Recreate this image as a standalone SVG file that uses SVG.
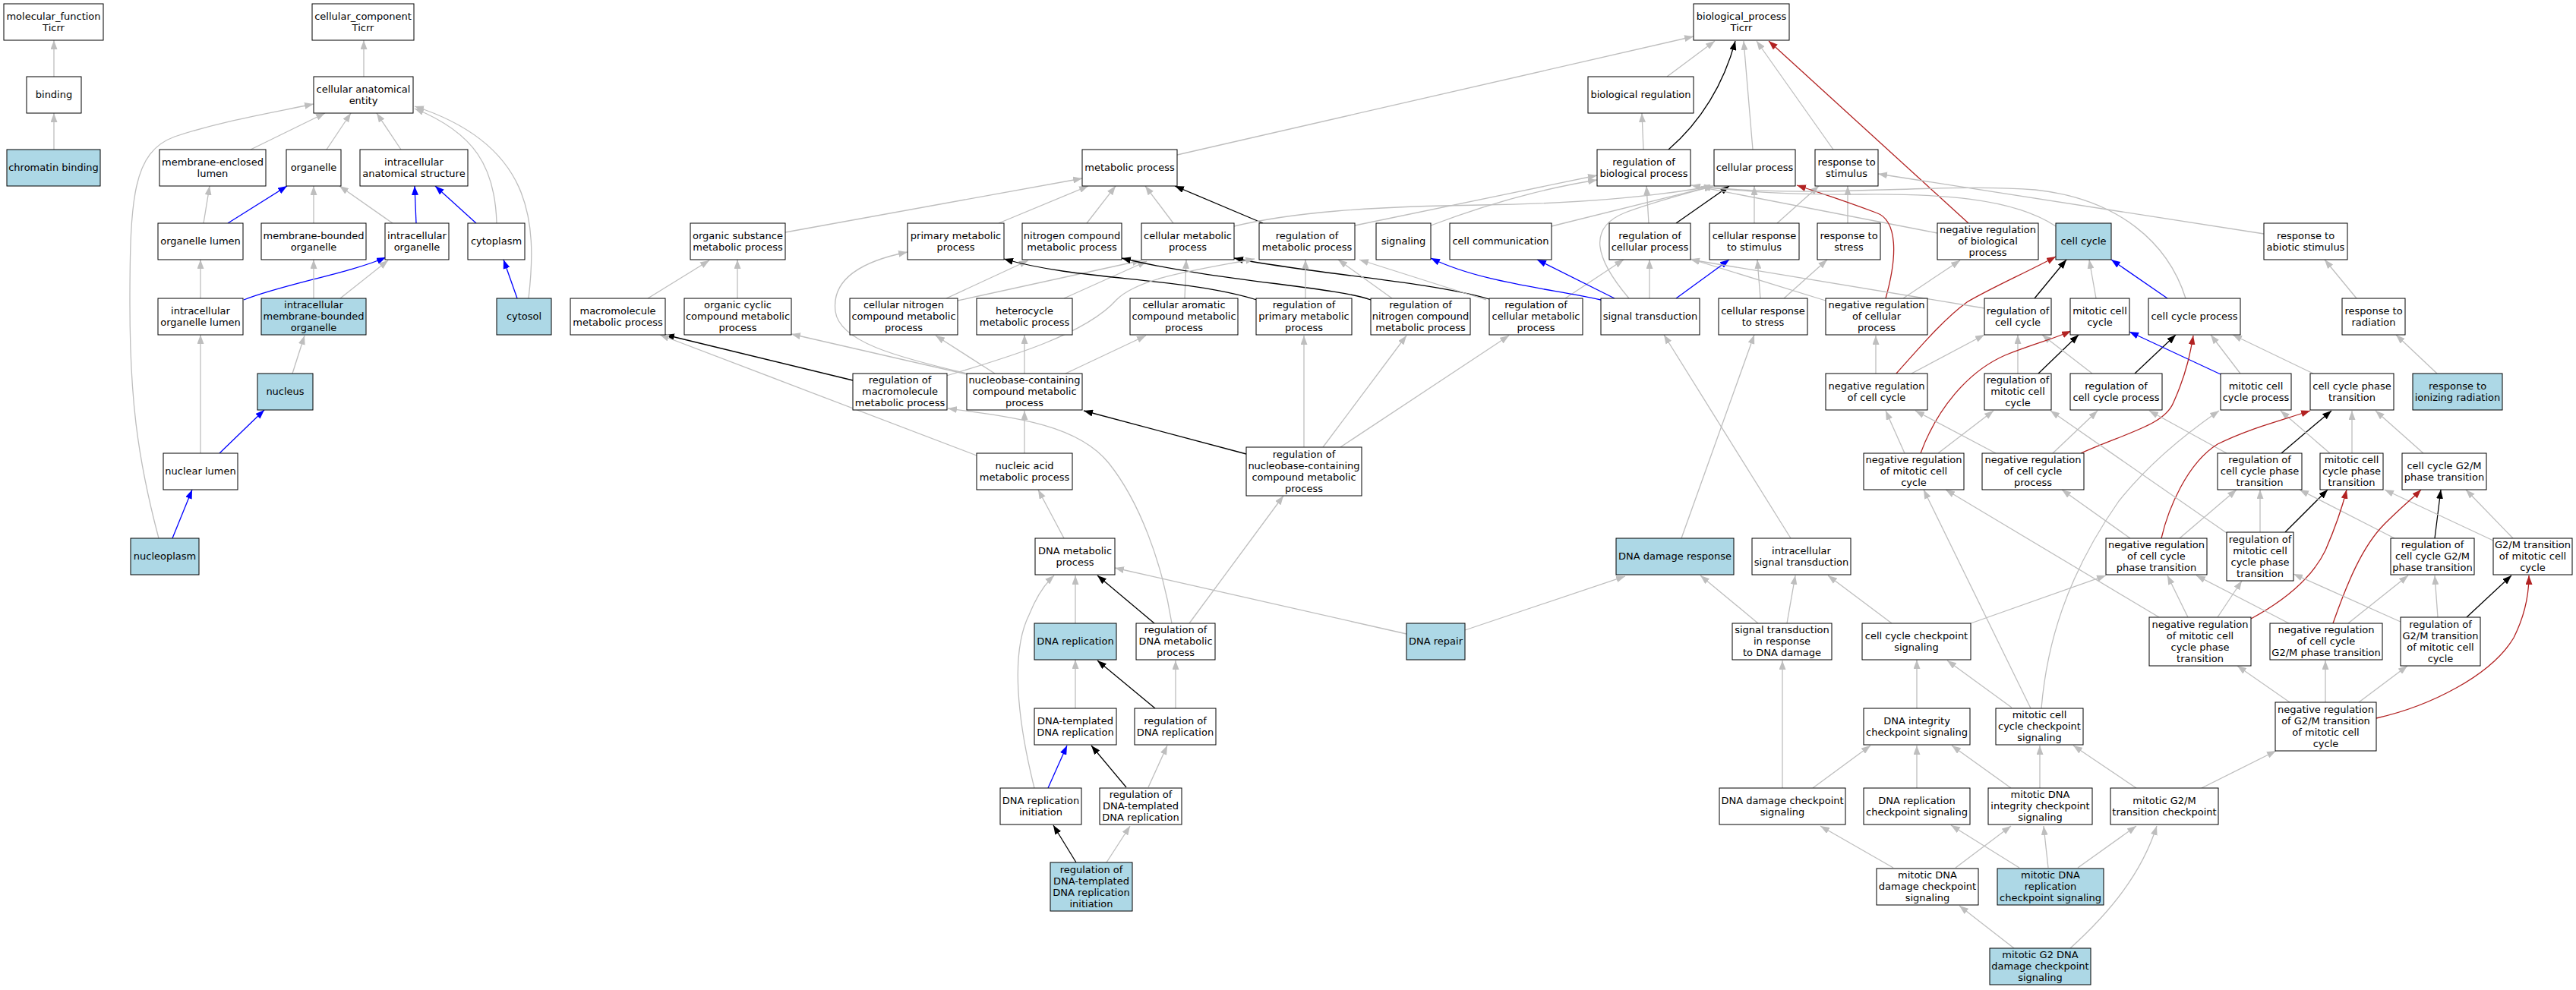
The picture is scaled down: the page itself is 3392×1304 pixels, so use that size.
<svg xmlns="http://www.w3.org/2000/svg" width="3392" height="1304" viewBox="0 0 3392 1304">
<defs>
<style>
.n rect{fill:#fff;stroke:#000;stroke-width:1}
.f rect{fill:#ADD8E6}
text{font-family:"DejaVu Sans","Liberation Sans",sans-serif;font-size:13px;text-anchor:middle;fill:#000}
#edges path{fill:none;stroke-width:1.3}
.g{stroke:#BEBEBE;marker-end:url(#mg)}
.k{stroke:#000;marker-end:url(#mk)}
.b{stroke:#0000FF;marker-end:url(#mb)}
.r{stroke:#B22222;marker-end:url(#mr)}
</style>
<marker id="mg" markerUnits="userSpaceOnUse" markerWidth="13" markerHeight="9" refX="12" refY="4.5" orient="auto"><path d="M0,0 L12,4.5 L0,9 z" fill="#BEBEBE"/></marker>
<marker id="mk" markerUnits="userSpaceOnUse" markerWidth="13" markerHeight="9" refX="12" refY="4.5" orient="auto"><path d="M0,0 L12,4.5 L0,9 z" fill="#000"/></marker>
<marker id="mb" markerUnits="userSpaceOnUse" markerWidth="13" markerHeight="9" refX="12" refY="4.5" orient="auto"><path d="M0,0 L12,4.5 L0,9 z" fill="#0000FF"/></marker>
<marker id="mr" markerUnits="userSpaceOnUse" markerWidth="13" markerHeight="9" refX="12" refY="4.5" orient="auto"><path d="M0,0 L12,4.5 L0,9 z" fill="#B22222"/></marker>
</defs>
<rect x="0" y="0" width="3392" height="1304" fill="#fff"/>
<g id="edges">
<path class="g" d="M71,101 L71,53"/>
<path class="g" d="M71,197 L71,149"/>
<path class="g" d="M479,101 L479,53"/>
<path class="g" d="M330,197 L428,149"/>
<path class="g" d="M430,197 L462,149"/>
<path class="g" d="M528,197 L496,149"/>
<path class="g" d="M268,294 L276,245"/>
<path class="b" d="M300,294 L378,245"/>
<path class="g" d="M413,294 L413,245"/>
<path class="g" d="M517,294 L447,245"/>
<path class="b" d="M548,294 L546,245"/>
<path class="b" d="M627,294 L573,245"/>
<path class="g" d="M654,294 C652,220 625,175 546,143"/>
<path class="g" d="M696,393 C708,290 700,190 546,140"/>
<path class="b" d="M681,393 L663,342"/>
<path class="g" d="M264,393 L264,342"/>
<path class="b" d="M321,395 C370,375 460,360 508,339"/>
<path class="g" d="M413,393 L413,342"/>
<path class="g" d="M448,393 L511,343"/>
<path class="g" d="M385,492 L401,442"/>
<path class="g" d="M264,597 L264,441"/>
<path class="b" d="M289,597 L348,540"/>
<path class="b" d="M227,709 L253,645"/>
<path class="g" d="M209,709 C180,600 171,520 171,400 C171,260 175,200 230,180 C290,160 350,150 413,137"/>
<path class="g" d="M1550,204 L2230,48"/>
<path class="g" d="M1034,306 L1425,235"/>
<path class="g" d="M1315,294 L1433,245"/>
<path class="g" d="M1431,294 L1469,245"/>
<path class="g" d="M1545,294 L1508,245"/>
<path class="k" d="M1663,294 L1547,245"/>
<path class="g" d="M1784,297 L2103,231"/>
<path class="g" d="M1884,297 C1950,272 2020,250 2103,237"/>
<path class="g" d="M1625,298 C1700,280 1800,272 1950,270 C2100,268 2200,255 2256,245"/>
<path class="g" d="M2043,298 L2256,245"/>
<path class="g" d="M2145,393 C2100,340 2090,300 2140,280 C2180,265 2220,255 2256,245"/>
<path class="k" d="M2207,294 L2277,245"/>
<path class="g" d="M2171,294 L2168,245"/>
<path class="g" d="M2310,294 L2310,245"/>
<path class="g" d="M2340,294 L2395,245"/>
<path class="g" d="M2433,294 L2433,245"/>
<path class="r" d="M2592,294 L2329,54"/>
<path class="g" d="M2551,307 L2227,244"/>
<path class="g" d="M2506,393 L2581,343"/>
<path class="g" d="M2404,396 L2226,341"/>
<path class="r" d="M2483,393 C2498,340 2500,290 2470,280 C2430,265 2400,255 2366,244"/>
<path class="g" d="M2981,308 L2473,229"/>
<path class="g" d="M2707,298 C2650,260 2550,255 2450,256 C2350,257 2300,252 2240,246"/>
<path class="g" d="M2878,393 C2855,320 2790,262 2680,250 C2560,240 2400,262 2240,246"/>
<path class="g" d="M2164,197 L2162,149"/>
<path class="k" d="M2197,197 C2240,160 2270,110 2285,54"/>
<path class="g" d="M2195,101 L2258,54"/>
<path class="g" d="M2308,197 L2296,54"/>
<path class="g" d="M2414,197 L2313,54"/>
<path class="g" d="M853,393 L934,343"/>
<path class="g" d="M971,393 L971,342"/>
<path class="g" d="M1246,393 L1354,343"/>
<path class="g" d="M1261,396 L1503,343"/>
<path class="g" d="M1401,393 L1510,344"/>
<path class="g" d="M1560,393 L1562,342"/>
<path class="k" d="M1655,395 C1560,365 1420,370 1322,341"/>
<path class="k" d="M1805,395 C1760,378 1600,370 1477,340"/>
<path class="k" d="M1961,394 C1880,370 1720,360 1625,340"/>
<path class="g" d="M1719,393 L1719,342"/>
<path class="g" d="M1833,393 L1762,342"/>
<path class="g" d="M1957,395 L1790,342"/>
<path class="g" d="M2061,393 L2138,342"/>
<path class="k" d="M1123,501 L876,441"/>
<path class="g" d="M1246,495 C1330,470 1430,440 1470,395 C1500,365 1580,355 1652,341"/>
<path class="g" d="M1273,493 L1042,440"/>
<path class="g" d="M1310,492 L1232,442"/>
<path class="g" d="M1349,492 L1349,441"/>
<path class="g" d="M1403,492 L1509,442"/>
<path class="g" d="M1273,492 C1180,470 1105,450 1100,410 C1095,370 1130,345 1195,332"/>
<path class="g" d="M1349,597 L1349,541"/>
<path class="g" d="M1286,600 L869,441"/>
<path class="k" d="M1641,598 L1427,541"/>
<path class="g" d="M1717,589 L1717,442"/>
<path class="g" d="M1742,589 L1852,442"/>
<path class="g" d="M1765,589 L1987,442"/>
<path class="g" d="M1401,709 L1367,645"/>
<path class="g" d="M1543,821 C1530,740 1500,660 1460,610 C1420,560 1340,550 1248,538"/>
<path class="g" d="M1566,821 L1690,653"/>
<path class="k" d="M1520,821 L1445,758"/>
<path class="g" d="M1852,835 L1468,748"/>
<path class="g" d="M1929,830 L2140,759"/>
<path class="g" d="M1416,821 L1416,758"/>
<path class="g" d="M1362,1038 C1340,950 1330,860 1355,810 C1365,785 1375,770 1388,758"/>
<path class="g" d="M1416,933 L1416,869"/>
<path class="k" d="M1521,933 L1445,870"/>
<path class="g" d="M1548,933 L1548,870"/>
<path class="b" d="M1380,1038 L1405,982"/>
<path class="k" d="M1483,1037 L1437,982"/>
<path class="g" d="M1512,1037 L1537,982"/>
<path class="k" d="M1417,1136 L1387,1087"/>
<path class="g" d="M1457,1136 L1488,1088"/>
<path class="b" d="M2108,395 C2040,380 1950,372 1884,340"/>
<path class="b" d="M2126,393 L2024,342"/>
<path class="g" d="M2172,393 L2172,342"/>
<path class="b" d="M2207,393 L2277,342"/>
<path class="g" d="M2318,393 L2314,342"/>
<path class="g" d="M2349,393 L2406,342"/>
<path class="g" d="M2358,709 L2191,441"/>
<path class="g" d="M2214,709 L2310,441"/>
<path class="g" d="M2470,492 L2470,442"/>
<path class="g" d="M2517,492 L2613,441"/>
<path class="r" d="M2497,492 C2530,455 2560,420 2590,398 C2620,380 2670,358 2707,338"/>
<path class="g" d="M2613,406 L2226,342"/>
<path class="k" d="M2679,393 L2721,342"/>
<path class="g" d="M2760,393 L2751,342"/>
<path class="b" d="M2854,393 L2780,342"/>
<path class="g" d="M3103,393 L3061,342"/>
<path class="g" d="M3209,492 L3155,441"/>
<path class="g" d="M2657,492 L2657,441"/>
<path class="k" d="M2684,492 L2737,441"/>
<path class="g" d="M2755,492 L2689,441"/>
<path class="k" d="M2811,492 L2865,441"/>
<path class="b" d="M2924,493 L2804,437"/>
<path class="g" d="M2950,492 L2911,441"/>
<path class="g" d="M3046,492 L2940,441"/>
<path class="g" d="M2508,597 L2483,541"/>
<path class="r" d="M2529,597 C2550,540 2590,490 2640,468 C2680,452 2700,448 2727,436"/>
<path class="g" d="M2552,597 L2625,541"/>
<path class="g" d="M2628,597 L2522,541"/>
<path class="g" d="M2703,597 L2762,541"/>
<path class="r" d="M2740,597 C2800,570 2850,560 2862,530 C2880,490 2885,460 2888,442"/>
<path class="g" d="M2932,597 L2830,541"/>
<path class="k" d="M3004,597 L3070,541"/>
<path class="g" d="M3068,597 L3003,541"/>
<path class="g" d="M3097,597 L3097,541"/>
<path class="g" d="M3191,597 L3128,541"/>
<path class="g" d="M2805,709 L2715,645"/>
<path class="r" d="M2846,709 C2855,670 2880,610 2920,585 C2960,565 3000,555 3042,541"/>
<path class="g" d="M2870,709 L2945,645"/>
<path class="g" d="M2976,701 L2976,645"/>
<path class="k" d="M3009,701 L3065,645"/>
<path class="g" d="M2932,702 L2700,541"/>
<path class="k" d="M3206,709 L3214,645"/>
<path class="g" d="M3153,709 L3028,645"/>
<path class="g" d="M3309,709 L3247,645"/>
<path class="g" d="M3283,712 L3140,645"/>
<path class="g" d="M2881,813 L2854,758"/>
<path class="g" d="M2920,813 L2952,765"/>
<path class="r" d="M2964,815 C3010,790 3045,760 3062,725 C3075,695 3085,665 3090,645"/>
<path class="g" d="M2843,813 L2562,645"/>
<path class="g" d="M3014,821 L2892,758"/>
<path class="g" d="M3092,821 L3171,758"/>
<path class="r" d="M3072,821 C3090,770 3110,720 3140,690 C3160,670 3178,655 3188,645"/>
<path class="g" d="M3210,813 L3206,758"/>
<path class="k" d="M3248,813 L3307,758"/>
<path class="g" d="M3161,819 L3020,756"/>
<path class="g" d="M2595,821 L2773,758"/>
<path class="g" d="M2491,821 L2407,758"/>
<path class="g" d="M2315,821 L2239,758"/>
<path class="g" d="M2353,821 L2364,758"/>
<path class="g" d="M2524,933 L2524,869"/>
<path class="g" d="M2649,932 L2564,870"/>
<path class="g" d="M2688,933 C2695,850 2720,760 2790,660 C2830,610 2880,570 2922,541"/>
<path class="g" d="M2674,933 L2533,645"/>
<path class="g" d="M3015,925 L2946,877"/>
<path class="g" d="M3062,925 L3062,870"/>
<path class="g" d="M3106,925 L3170,877"/>
<path class="r" d="M3129,946 C3200,930 3280,890 3310,840 C3325,810 3330,780 3330,758"/>
<path class="g" d="M2387,1038 L2463,982"/>
<path class="g" d="M2347,1038 L2347,870"/>
<path class="g" d="M2524,1038 L2524,982"/>
<path class="g" d="M2648,1038 L2570,982"/>
<path class="g" d="M2686,1038 L2686,982"/>
<path class="g" d="M2813,1038 L2730,982"/>
<path class="g" d="M2899,1038 L2997,989"/>
<path class="g" d="M2493,1143 L2397,1088"/>
<path class="g" d="M2575,1143 L2648,1088"/>
<path class="g" d="M2659,1143 L2569,1087"/>
<path class="g" d="M2697,1143 L2691,1088"/>
<path class="g" d="M2736,1143 L2813,1088"/>
<path class="g" d="M2652,1249 L2580,1193"/>
<path class="g" d="M2726,1249 C2780,1200 2820,1150 2840,1088"/>
</g>
<g id="mf" class="n"><rect x="5" y="5" width="131" height="48"/><text x="70.5" y="25.5">molecular_function</text><text x="70.5" y="40.5">Ticrr</text></g>
<g id="cc" class="n"><rect x="411" y="5" width="134" height="48"/><text x="478" y="25.5">cellular_component</text><text x="478" y="40.5">Ticrr</text></g>
<g id="bp" class="n"><rect x="2230" y="5" width="126" height="48"/><text x="2293" y="25.5">biological_process</text><text x="2293" y="40.5">Ticrr</text></g>
<g id="binding" class="n"><rect x="35" y="101" width="72" height="48"/><text x="71" y="129">binding</text></g>
<g id="cae" class="n"><rect x="413" y="101" width="131" height="48"/><text x="478.5" y="121.5">cellular anatomical</text><text x="478.5" y="136.5">entity</text></g>
<g id="bioreg" class="n"><rect x="2091" y="101" width="139" height="48"/><text x="2160.5" y="129">biological regulation</text></g>
<g id="chromatin" class="n f"><rect x="9" y="197" width="123" height="48"/><text x="70.5" y="225">chromatin binding</text></g>
<g id="mel" class="n"><rect x="210" y="197" width="140" height="48"/><text x="280" y="217.5">membrane-enclosed</text><text x="280" y="232.5">lumen</text></g>
<g id="organelle" class="n"><rect x="377" y="197" width="72" height="48"/><text x="413" y="225">organelle</text></g>
<g id="ias" class="n"><rect x="474" y="197" width="142" height="48"/><text x="545" y="217.5">intracellular</text><text x="545" y="232.5">anatomical structure</text></g>
<g id="metab" class="n"><rect x="1425" y="197" width="125" height="48"/><text x="1487.5" y="225">metabolic process</text></g>
<g id="rbp" class="n"><rect x="2103" y="197" width="123" height="48"/><text x="2164.5" y="217.5">regulation of</text><text x="2164.5" y="232.5">biological process</text></g>
<g id="cellproc" class="n"><rect x="2257" y="197" width="107" height="48"/><text x="2310.5" y="225">cellular process</text></g>
<g id="rstim" class="n"><rect x="2390" y="197" width="83" height="48"/><text x="2431.5" y="217.5">response to</text><text x="2431.5" y="232.5">stimulus</text></g>
<g id="ol" class="n"><rect x="208" y="294" width="112" height="48"/><text x="264" y="322">organelle lumen</text></g>
<g id="mbo" class="n"><rect x="344" y="294" width="138" height="48"/><text x="413" y="314.5">membrane-bounded</text><text x="413" y="329.5">organelle</text></g>
<g id="io" class="n"><rect x="507" y="294" width="84" height="48"/><text x="549" y="314.5">intracellular</text><text x="549" y="329.5">organelle</text></g>
<g id="cytoplasm" class="n"><rect x="616" y="294" width="75" height="48"/><text x="653.5" y="322">cytoplasm</text></g>
<g id="osmp" class="n"><rect x="909" y="294" width="125" height="48"/><text x="971.5" y="314.5">organic substance</text><text x="971.5" y="329.5">metabolic process</text></g>
<g id="pmp" class="n"><rect x="1195" y="294" width="127" height="48"/><text x="1258.5" y="314.5">primary metabolic</text><text x="1258.5" y="329.5">process</text></g>
<g id="ncmp" class="n"><rect x="1346" y="294" width="131" height="48"/><text x="1411.5" y="314.5">nitrogen compound</text><text x="1411.5" y="329.5">metabolic process</text></g>
<g id="cmp" class="n"><rect x="1503" y="294" width="122" height="48"/><text x="1564" y="314.5">cellular metabolic</text><text x="1564" y="329.5">process</text></g>
<g id="rmp" class="n"><rect x="1658" y="294" width="126" height="48"/><text x="1721" y="314.5">regulation of</text><text x="1721" y="329.5">metabolic process</text></g>
<g id="signaling" class="n"><rect x="1812" y="294" width="72" height="48"/><text x="1848" y="322">signaling</text></g>
<g id="cellcomm" class="n"><rect x="1909" y="294" width="134" height="48"/><text x="1976" y="322">cell communication</text></g>
<g id="rcp" class="n"><rect x="2119" y="294" width="107" height="48"/><text x="2172.5" y="314.5">regulation of</text><text x="2172.5" y="329.5">cellular process</text></g>
<g id="crstim" class="n"><rect x="2251" y="294" width="118" height="48"/><text x="2310" y="314.5">cellular response</text><text x="2310" y="329.5">to stimulus</text></g>
<g id="rstress" class="n"><rect x="2393" y="294" width="83" height="48"/><text x="2434.5" y="314.5">response to</text><text x="2434.5" y="329.5">stress</text></g>
<g id="nrbp" class="n"><rect x="2551" y="294" width="133" height="48"/><text x="2617.5" y="307">negative regulation</text><text x="2617.5" y="322">of biological</text><text x="2617.5" y="337">process</text></g>
<g id="cellcycle" class="n f"><rect x="2707" y="294" width="73" height="48"/><text x="2743.5" y="322">cell cycle</text></g>
<g id="rabiotic" class="n"><rect x="2981" y="294" width="110" height="48"/><text x="3036" y="314.5">response to</text><text x="3036" y="329.5">abiotic stimulus</text></g>
<g id="iol" class="n"><rect x="208" y="393" width="112" height="48"/><text x="264" y="413.5">intracellular</text><text x="264" y="428.5">organelle lumen</text></g>
<g id="imbo" class="n f"><rect x="344" y="393" width="138" height="48"/><text x="413" y="406">intracellular</text><text x="413" y="421">membrane-bounded</text><text x="413" y="436">organelle</text></g>
<g id="cytosol" class="n f"><rect x="654" y="393" width="72" height="48"/><text x="690" y="421">cytosol</text></g>
<g id="mmp" class="n"><rect x="751" y="393" width="125" height="48"/><text x="813.5" y="413.5">macromolecule</text><text x="813.5" y="428.5">metabolic process</text></g>
<g id="occmp" class="n"><rect x="901" y="393" width="141" height="48"/><text x="971.5" y="406">organic cyclic</text><text x="971.5" y="421">compound metabolic</text><text x="971.5" y="436">process</text></g>
<g id="cncmp" class="n"><rect x="1119" y="393" width="142" height="48"/><text x="1190" y="406">cellular nitrogen</text><text x="1190" y="421">compound metabolic</text><text x="1190" y="436">process</text></g>
<g id="hmp" class="n"><rect x="1286" y="393" width="126" height="48"/><text x="1349" y="413.5">heterocycle</text><text x="1349" y="428.5">metabolic process</text></g>
<g id="cacmp" class="n"><rect x="1488" y="393" width="142" height="48"/><text x="1559" y="406">cellular aromatic</text><text x="1559" y="421">compound metabolic</text><text x="1559" y="436">process</text></g>
<g id="rpmp" class="n"><rect x="1654" y="393" width="126" height="48"/><text x="1717" y="406">regulation of</text><text x="1717" y="421">primary metabolic</text><text x="1717" y="436">process</text></g>
<g id="rncmp" class="n"><rect x="1805" y="393" width="131" height="48"/><text x="1870.5" y="406">regulation of</text><text x="1870.5" y="421">nitrogen compound</text><text x="1870.5" y="436">metabolic process</text></g>
<g id="rcmp" class="n"><rect x="1961" y="393" width="123" height="48"/><text x="2022.5" y="406">regulation of</text><text x="2022.5" y="421">cellular metabolic</text><text x="2022.5" y="436">process</text></g>
<g id="st" class="n"><rect x="2108" y="393" width="130" height="48"/><text x="2173" y="421">signal transduction</text></g>
<g id="crstress" class="n"><rect x="2263" y="393" width="117" height="48"/><text x="2321.5" y="413.5">cellular response</text><text x="2321.5" y="428.5">to stress</text></g>
<g id="nrcp" class="n"><rect x="2404" y="393" width="134" height="48"/><text x="2471" y="406">negative regulation</text><text x="2471" y="421">of cellular</text><text x="2471" y="436">process</text></g>
<g id="rcc" class="n"><rect x="2613" y="393" width="88" height="48"/><text x="2657" y="413.5">regulation of</text><text x="2657" y="428.5">cell cycle</text></g>
<g id="mcc" class="n"><rect x="2726" y="393" width="78" height="48"/><text x="2765" y="413.5">mitotic cell</text><text x="2765" y="428.5">cycle</text></g>
<g id="ccp" class="n"><rect x="2829" y="393" width="121" height="48"/><text x="2889.5" y="421">cell cycle process</text></g>
<g id="rrad" class="n"><rect x="3084" y="393" width="83" height="48"/><text x="3125.5" y="413.5">response to</text><text x="3125.5" y="428.5">radiation</text></g>
<g id="nucleus" class="n f"><rect x="339" y="492" width="73" height="48"/><text x="375.5" y="520">nucleus</text></g>
<g id="rmmp" class="n"><rect x="1123" y="492" width="124" height="48"/><text x="1185" y="505">regulation of</text><text x="1185" y="520">macromolecule</text><text x="1185" y="535">metabolic process</text></g>
<g id="nbcmp" class="n"><rect x="1273" y="492" width="152" height="48"/><text x="1349" y="505">nucleobase-containing</text><text x="1349" y="520">compound metabolic</text><text x="1349" y="535">process</text></g>
<g id="nrcc" class="n"><rect x="2404" y="492" width="134" height="48"/><text x="2471" y="512.5">negative regulation</text><text x="2471" y="527.5">of cell cycle</text></g>
<g id="rmcc" class="n"><rect x="2613" y="492" width="88" height="48"/><text x="2657" y="505">regulation of</text><text x="2657" y="520">mitotic cell</text><text x="2657" y="535">cycle</text></g>
<g id="rccp" class="n"><rect x="2726" y="492" width="121" height="48"/><text x="2786.5" y="512.5">regulation of</text><text x="2786.5" y="527.5">cell cycle process</text></g>
<g id="mccp" class="n"><rect x="2924" y="492" width="93" height="48"/><text x="2970.5" y="512.5">mitotic cell</text><text x="2970.5" y="527.5">cycle process</text></g>
<g id="ccpt" class="n"><rect x="3042" y="492" width="110" height="48"/><text x="3097" y="512.5">cell cycle phase</text><text x="3097" y="527.5">transition</text></g>
<g id="rir" class="n f"><rect x="3177" y="492" width="118" height="48"/><text x="3236" y="512.5">response to</text><text x="3236" y="527.5">ionizing radiation</text></g>
<g id="nl" class="n"><rect x="215" y="597" width="98" height="48"/><text x="264" y="625">nuclear lumen</text></g>
<g id="namp" class="n"><rect x="1286" y="597" width="126" height="48"/><text x="1349" y="617.5">nucleic acid</text><text x="1349" y="632.5">metabolic process</text></g>
<g id="rnbcmp" class="n"><rect x="1641" y="589" width="152" height="64"/><text x="1717" y="602.5">regulation of</text><text x="1717" y="617.5">nucleobase-containing</text><text x="1717" y="632.5">compound metabolic</text><text x="1717" y="647.5">process</text></g>
<g id="nrmcc" class="n"><rect x="2454" y="597" width="132" height="48"/><text x="2520" y="610">negative regulation</text><text x="2520" y="625">of mitotic cell</text><text x="2520" y="640">cycle</text></g>
<g id="nrccp" class="n"><rect x="2610" y="597" width="134" height="48"/><text x="2677" y="610">negative regulation</text><text x="2677" y="625">of cell cycle</text><text x="2677" y="640">process</text></g>
<g id="rccpt" class="n"><rect x="2920" y="597" width="111" height="48"/><text x="2975.5" y="610">regulation of</text><text x="2975.5" y="625">cell cycle phase</text><text x="2975.5" y="640">transition</text></g>
<g id="mccpt" class="n"><rect x="3055" y="597" width="83" height="48"/><text x="3096.5" y="610">mitotic cell</text><text x="3096.5" y="625">cycle phase</text><text x="3096.5" y="640">transition</text></g>
<g id="ccg2m" class="n"><rect x="3163" y="597" width="111" height="48"/><text x="3218.5" y="617.5">cell cycle G2/M</text><text x="3218.5" y="632.5">phase transition</text></g>
<g id="nucleoplasm" class="n f"><rect x="172" y="709" width="90" height="48"/><text x="217" y="737">nucleoplasm</text></g>
<g id="dnamp" class="n"><rect x="1363" y="709" width="105" height="48"/><text x="1415.5" y="729.5">DNA metabolic</text><text x="1415.5" y="744.5">process</text></g>
<g id="ddr" class="n f"><rect x="2128" y="709" width="155" height="48"/><text x="2205.5" y="737">DNA damage response</text></g>
<g id="ist" class="n"><rect x="2307" y="709" width="130" height="48"/><text x="2372" y="729.5">intracellular</text><text x="2372" y="744.5">signal transduction</text></g>
<g id="nrccpt" class="n"><rect x="2773" y="709" width="133" height="48"/><text x="2839.5" y="722">negative regulation</text><text x="2839.5" y="737">of cell cycle</text><text x="2839.5" y="752">phase transition</text></g>
<g id="rmccpt" class="n"><rect x="2932" y="701" width="88" height="64"/><text x="2976" y="714.5">regulation of</text><text x="2976" y="729.5">mitotic cell</text><text x="2976" y="744.5">cycle phase</text><text x="2976" y="759.5">transition</text></g>
<g id="rccg2m" class="n"><rect x="3148" y="709" width="110" height="48"/><text x="3203" y="722">regulation of</text><text x="3203" y="737">cell cycle G2/M</text><text x="3203" y="752">phase transition</text></g>
<g id="g2mmcc" class="n"><rect x="3283" y="709" width="104" height="48"/><text x="3335" y="722">G2/M transition</text><text x="3335" y="737">of mitotic cell</text><text x="3335" y="752">cycle</text></g>
<g id="dnarep" class="n f"><rect x="1362" y="821" width="108" height="48"/><text x="1416" y="849">DNA replication</text></g>
<g id="rdnamp" class="n"><rect x="1496" y="821" width="104" height="48"/><text x="1548" y="834">regulation of</text><text x="1548" y="849">DNA metabolic</text><text x="1548" y="864">process</text></g>
<g id="dnarepair" class="n f"><rect x="1852" y="821" width="77" height="48"/><text x="1890.5" y="849">DNA repair</text></g>
<g id="stdd" class="n"><rect x="2281" y="821" width="131" height="48"/><text x="2346.5" y="834">signal transduction</text><text x="2346.5" y="849">in response</text><text x="2346.5" y="864">to DNA damage</text></g>
<g id="cccs" class="n"><rect x="2452" y="821" width="143" height="48"/><text x="2523.5" y="841.5">cell cycle checkpoint</text><text x="2523.5" y="856.5">signaling</text></g>
<g id="nrmccpt" class="n"><rect x="2830" y="813" width="134" height="64"/><text x="2897" y="826.5">negative regulation</text><text x="2897" y="841.5">of mitotic cell</text><text x="2897" y="856.5">cycle phase</text><text x="2897" y="871.5">transition</text></g>
<g id="nrccg2m" class="n"><rect x="2989" y="821" width="148" height="48"/><text x="3063" y="834">negative regulation</text><text x="3063" y="849">of cell cycle</text><text x="3063" y="864">G2/M phase transition</text></g>
<g id="rg2mmcc" class="n"><rect x="3161" y="813" width="105" height="64"/><text x="3213.5" y="826.5">regulation of</text><text x="3213.5" y="841.5">G2/M transition</text><text x="3213.5" y="856.5">of mitotic cell</text><text x="3213.5" y="871.5">cycle</text></g>
<g id="dtdr" class="n"><rect x="1362" y="933" width="108" height="48"/><text x="1416" y="953.5">DNA-templated</text><text x="1416" y="968.5">DNA replication</text></g>
<g id="rdr" class="n"><rect x="1494" y="933" width="107" height="48"/><text x="1547.5" y="953.5">regulation of</text><text x="1547.5" y="968.5">DNA replication</text></g>
<g id="dics" class="n"><rect x="2454" y="933" width="140" height="48"/><text x="2524" y="953.5">DNA integrity</text><text x="2524" y="968.5">checkpoint signaling</text></g>
<g id="mcccs" class="n"><rect x="2628" y="933" width="115" height="48"/><text x="2685.5" y="946">mitotic cell</text><text x="2685.5" y="961">cycle checkpoint</text><text x="2685.5" y="976">signaling</text></g>
<g id="nrg2m" class="n"><rect x="2996" y="925" width="133" height="64"/><text x="3062.5" y="938.5">negative regulation</text><text x="3062.5" y="953.5">of G2/M transition</text><text x="3062.5" y="968.5">of mitotic cell</text><text x="3062.5" y="983.5">cycle</text></g>
<g id="dri" class="n"><rect x="1317" y="1038" width="107" height="48"/><text x="1370.5" y="1058.5">DNA replication</text><text x="1370.5" y="1073.5">initiation</text></g>
<g id="rdtdr" class="n"><rect x="1448" y="1038" width="108" height="48"/><text x="1502" y="1051">regulation of</text><text x="1502" y="1066">DNA-templated</text><text x="1502" y="1081">DNA replication</text></g>
<g id="ddcs" class="n"><rect x="2264" y="1038" width="166" height="48"/><text x="2347" y="1058.5">DNA damage checkpoint</text><text x="2347" y="1073.5">signaling</text></g>
<g id="drcs" class="n"><rect x="2454" y="1038" width="140" height="48"/><text x="2524" y="1058.5">DNA replication</text><text x="2524" y="1073.5">checkpoint signaling</text></g>
<g id="mdics" class="n"><rect x="2618" y="1038" width="137" height="48"/><text x="2686.5" y="1051">mitotic DNA</text><text x="2686.5" y="1066">integrity checkpoint</text><text x="2686.5" y="1081">signaling</text></g>
<g id="mg2mtc" class="n"><rect x="2779" y="1038" width="142" height="48"/><text x="2850" y="1058.5">mitotic G2/M</text><text x="2850" y="1073.5">transition checkpoint</text></g>
<g id="rdtdri" class="n f"><rect x="1383" y="1136" width="108" height="64"/><text x="1437" y="1149.5">regulation of</text><text x="1437" y="1164.5">DNA-templated</text><text x="1437" y="1179.5">DNA replication</text><text x="1437" y="1194.5">initiation</text></g>
<g id="mddcs" class="n"><rect x="2471" y="1144" width="134" height="48"/><text x="2538" y="1157">mitotic DNA</text><text x="2538" y="1172">damage checkpoint</text><text x="2538" y="1187">signaling</text></g>
<g id="mdrcs" class="n f"><rect x="2630" y="1144" width="140" height="48"/><text x="2700" y="1157">mitotic DNA</text><text x="2700" y="1172">replication</text><text x="2700" y="1187">checkpoint signaling</text></g>
<g id="mg2ddcs" class="n f"><rect x="2620" y="1249" width="133" height="48"/><text x="2686.5" y="1262">mitotic G2 DNA</text><text x="2686.5" y="1277">damage checkpoint</text><text x="2686.5" y="1292">signaling</text></g>
</svg>
